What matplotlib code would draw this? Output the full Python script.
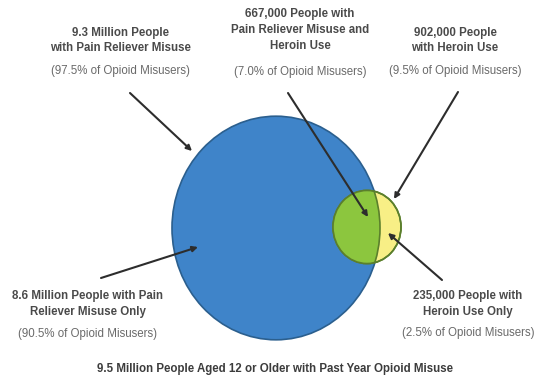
import numpy as np
import matplotlib
matplotlib.use("Agg")
import matplotlib.pyplot as plt
from matplotlib.patches import Ellipse

# values in millions of people
pain_total = 9.3
heroin_total = 0.902
both = 0.667
pain_only = 8.6
heroin_only = 0.235
total = 9.5

labels_main = [
    "9.3 Million People\nwith Pain Reliever Misuse",
    "667,000 People with\nPain Reliever Misuse and\nHeroin Use",
    "902,000 People\nwith Heroin Use",
    "8.6 Million People with Pain\nReliever Misuse Only",
    "235,000 People with\nHeroin Use Only",
]
labels_pct = [
    "(97.5% of Opioid Misusers)",
    "(7.0% of Opioid Misusers)",
    "(9.5% of Opioid Misusers)",
    "(90.5% of Opioid Misusers)",
    "(2.5% of Opioid Misusers)",
]
title = "9.5 Million People Aged 12 or Older with Past Year Opioid Misuse"

plt.rcParams['font.family'] = ['Liberation Sans', 'DejaVu Sans']

fig = plt.figure(figsize=(5.44, 3.83), dpi=100)
ax = fig.add_axes([0, 0, 1, 1])
ax.set_xlim(0, 544)
ax.set_ylim(383, 0)
ax.axis('off')

# circle sizes proportional to area (the source image is slightly stretched vertically)
k = 104 / np.sqrt(pain_total)
stretch = 1.075
r_pain = k * np.sqrt(pain_total)
r_her = k * np.sqrt(heroin_total) * 1.05

pain_c = (276, 228)
her_c = (367, 227)

blue = Ellipse(pain_c, 2 * r_pain, 2 * r_pain * stretch, facecolor='#3f84c9',
               edgecolor='#2b5f8e', lw=1.2, zorder=1)
ax.add_patch(blue)

yellow = Ellipse(her_c, 2 * r_her, 2 * r_her * stretch, facecolor='#f8ef86',
                 edgecolor='#5b7f2c', lw=1.2, zorder=2)
ax.add_patch(yellow)

green = Ellipse(her_c, 2 * r_her, 2 * r_her * stretch, facecolor='#8cc63e',
                edgecolor='none', zorder=3)
ax.add_patch(green)
green.set_clip_path(blue)

# boundary of the big circle inside the small one
inner = Ellipse(pain_c, 2 * r_pain, 2 * r_pain * stretch, facecolor='none',
                edgecolor='#5b7f2c', lw=1.2, zorder=4)
ax.add_patch(inner)
inner.set_clip_path(yellow)

ring = Ellipse(her_c, 2 * r_her, 2 * r_her * stretch, facecolor='none',
               edgecolor='#5b7f2c', lw=1.2, zorder=5)
ax.add_patch(ring)

# label blocks: (x, centre y of main block, y of pct line)
pos = [(120, 40.5, 71), (300, 30, 72), (455, 40.5, 71), (88, 304, 334), (468, 304, 333)]
for (x, y, yp), m, p in zip(pos, labels_main, labels_pct):
    ax.text(x, y, m, ha='center', va='center',
            fontsize=8.3, fontweight='bold', color='#4a4a4a', linespacing=1.4)
    ax.text(x, yp, p, ha='center', va='center', fontsize=8.3, color='#6a6a6a')

# arrows: (start, end)
arrows = [((130, 93), (192, 151)), ((288, 93), (368, 217)), ((458, 92), (394, 199)),
          ((101, 278), (198, 247)), ((442, 280), (388, 233))]
for s, e in arrows:
    ax.annotate('', xy=e, xytext=s,
                arrowprops=dict(arrowstyle='-|>', color='#2d2d2d', lw=1.5,
                                mutation_scale=8, shrinkA=0, shrinkB=0), zorder=6)

ax.text(275, 369, title, ha='center', va='center', fontsize=8.3, fontweight='bold',
        color='#3c3c3c')

fig.savefig('out.png', dpi=100)
